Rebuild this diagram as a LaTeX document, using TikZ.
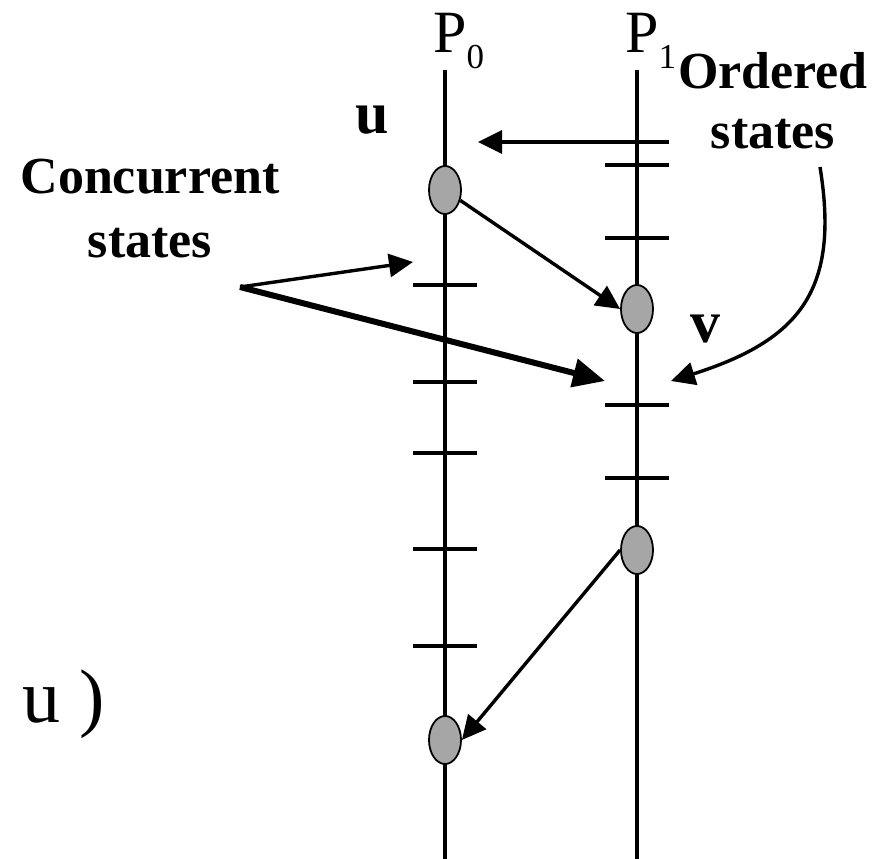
\documentclass[tikz,border=0pt]{standalone}
\usepackage{fontspec}
\setmainfont{Liberation Serif}
\usetikzlibrary{arrows.meta, shapes.geometric}
\definecolor{eventgray}{HTML}{A6A6A6}

\begin{document}
\begin{tikzpicture}[
    x=1pt, y=-1pt,
    proc line/.style={line width=3.5pt},
    tick mark/.style={line width=3.5pt},
    event/.style={ellipse, draw, line width=1.8pt, fill=eventgray,
        minimum width=32pt, minimum height=48pt, inner sep=0pt},
    msg/.style={line width=3.4pt, -{Triangle[length=24pt, width=23pt]}},
    big msg/.style={line width=6pt, -{Triangle[length=32pt, width=28pt]}},
    bold label/.style={font=\fontsize{52}{#1}\selectfont\bfseries,
        align=center, inner sep=0pt, anchor=base},
    ev label/.style={font=\fontsize{60}{60}\selectfont\bfseries, inner sep=0pt},
    proc label/.style={font=\fontsize{60}{60}\selectfont, inner sep=0pt,
        anchor=base west},
]

% ══════════════════════════════════════════════════════════════════════
%  DIMENSIONS — two process lines, y grows downwards
% ══════════════════════════════════════════════════════════════════════
\def\PzX{445}  \def\PoX{637}
\def\lineT{70} \def\lineB{859}
\def\tickW{32}

\useasboundingbox (0,0) rectangle (878,859);

% ── process lines ─────────────────────────────────────────────────────
\coordinate (p0top) at (\PzX,\lineT);  \coordinate (p0bot) at (\PzX,\lineB);
\coordinate (p1top) at (\PoX,\lineT);  \coordinate (p1bot) at (\PoX,\lineB);
\draw[proc line] (p0top) -- (p0bot);
\draw[proc line] (p1top) -- (p1bot);

\node[proc label] (P0) at (433,53) {P\lower15pt\hbox{\fontsize{35}{35}\selectfont 0}};
\node[proc label] (P1) at (625,53) {P\lower15pt\hbox{\fontsize{35}{35}\selectfont 1}};

% ── state ticks ───────────────────────────────────────────────────────
\foreach \y in {285,382,453,549,646}
  \draw[tick mark] (\PzX-\tickW,\y) -- (\PzX+\tickW,\y);
\foreach \y in {142,165,238,405,478}
  \draw[tick mark] (\PoX-\tickW,\y) -- (\PoX+\tickW,\y);

% ── events ────────────────────────────────────────────────────────────
\node[event] (eu) at (\PzX,190) {};
\node[event] (ev) at (\PoX,309) {};
\node[event] (es) at (\PoX,550) {};
\node[event] (er) at (\PzX,740) {};

\node[ev label, anchor=base west] (ulab) at (355,133) {u};
\node[ev label, anchor=base west] (vlab) at (690,342) {v};
\node[font=\fontsize{76}{76}\selectfont, inner sep=0pt, anchor=base west]
    (uend) at (22,722) {u )};

% ── messages ──────────────────────────────────────────────────────────
\coordinate (tsrc) at (\PoX+\tickW,142);
\coordinate (ttip) at (478,142);
\draw[msg] (tsrc) -- (ttip);
\draw[msg] (eu) -- (ev.west);
\draw[msg] (es.west) -- (er.east);

% ── concurrent states ─────────────────────────────────────────────────
\node[bold label=64] (conc) at (150,257) {Concurrent\\states};
\coordinate (cfork) at (240,287);
\coordinate (ctipA) at (413,262);
\coordinate (ctipB) at (605,381);
\draw[msg] (cfork) -- (ctipA);
\draw[big msg] (cfork) -- (ctipB);

% ── ordered states ────────────────────────────────────────────────────
\node[bold label=60] (ord) at (773,148) {Ordered\\states};
\coordinate (ostart) at (820,167);
\coordinate (otip) at (671,381);
\draw[msg] (ostart) .. controls (840,290) and (800,340) .. (otip);

\end{tikzpicture}
\end{document}
